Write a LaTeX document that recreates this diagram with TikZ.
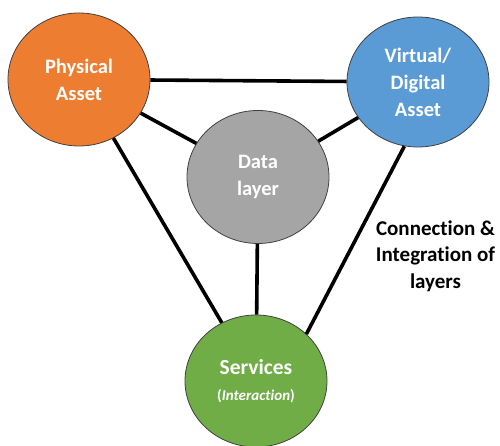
\documentclass[tikz,border=0pt]{standalone}
\usepackage{fontspec}
\setmainfont{Carlito}[Ligatures=NoCommon]
\usetikzlibrary{shapes.geometric}

\definecolor{physorange}{HTML}{ED7D31}
\definecolor{virtblue}{HTML}{5B9BD5}
\definecolor{datagray}{HTML}{A5A5A5}
\definecolor{servgreen}{HTML}{70AD47}

\tikzset{
  layer/.style={ellipse, draw=black!75, line width=0.8pt, inner sep=0pt,
    minimum width=142pt, minimum height=133pt, text=white, align=center,
    font=\bfseries\fontsize{20.5}{27}\selectfont},
  link/.style={line width=3.6pt, black}
}

\begin{document}
\begin{tikzpicture}[x=1pt,y=1pt]
\useasboundingbox (0,0) rectangle (500,446);

% layers
\node[layer, fill=physorange] (phys) at (79,366.5) {Physical\\Asset};
\node[layer, fill=virtblue, minimum height=130pt] (virt) at (418,364) {Virtual/\\Digital\\Asset};
\node[layer, fill=datagray] (data) at (258,269) {Data\\layer};
\node[layer, fill=servgreen, minimum height=132pt] (serv) at (256,65)
  {\fontsize{21.5}{18}\selectfont Services\\[-1pt]{\fontsize{15}{16}\selectfont(\textit{Interaction})}};

% connections
\draw[link] (phys) -- (virt);
\draw[link] (phys) -- (data);
\draw[link] (virt) -- (data);
\draw[link] (phys) -- (serv);
\draw[link] (data) -- (serv);
\draw[link] (virt.258) -- (serv.43);

% label
\node[align=center, font=\bfseries\fontsize{21}{26.5}\selectfont] (lbl) at (435.5,190)
  {Connection \&\\Integration of\\layers};

\end{tikzpicture}
\end{document}
